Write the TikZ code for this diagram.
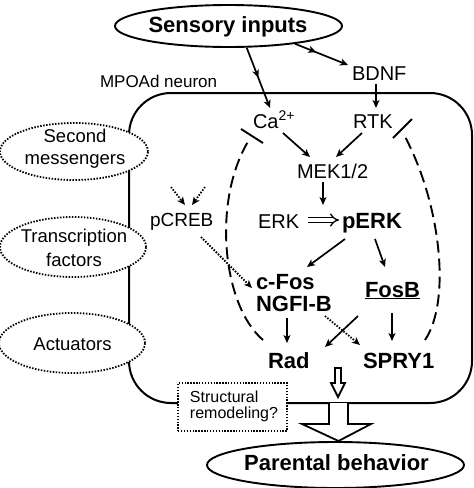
\documentclass[tikz,border=0pt]{standalone}
\usepackage{fontspec}
\setmainfont{Liberation Sans}
\usetikzlibrary{arrows.meta,decorations.markings,shapes.geometric}
\tikzset{
  lbl/.style={inner sep=0pt, outer sep=0pt, anchor=base west, font=\fontsize{20}{22}\selectfont},
  blbl/.style={lbl, font=\bfseries\fontsize{22}{22}\selectfont},
  sidelbl/.style={inner sep=0pt, outer sep=0pt, align=center, font=\fontsize{18.5}{22}\selectfont},
  tip/.tip={Stealth[length=8pt,width=7pt,inset=2.2pt]},
  arr/.style={line width=1.7pt, -tip},
  dotarr/.style={arr, line width=1.8pt, dash pattern=on 1.5pt off 1.5pt},
  inhib/.style={line width=1.9pt, dash pattern=on 12pt off 6pt},
  inhibbar/.style={line width=1.9pt},
  midarrow/.style={postaction={decorate}, decoration={markings, mark=at position #1 with {\arrow{Stealth[length=8pt,width=7pt,inset=2.2pt]}}}},
  solidell/.style={ellipse, draw, line width=1.9pt, fill=white, inner sep=0pt},
  dotell/.style={ellipse, draw, line width=1.8pt, dash pattern=on 1.5pt off 1.5pt, fill=white, inner sep=0pt},
  hollow/.style={line width=1.8pt, fill=white, line join=miter},
}
\begin{document}
\begin{tikzpicture}[x=1pt,y=-1pt]
\useasboundingbox (0,0) rectangle (474,488);
% neuron outline
\draw[line width=2pt, rounded corners=42pt] (129,93) rectangle (472,403);
% side ellipses
\node[dotell, minimum width=148pt, minimum height=57pt] (sm) at (74,151.5) {};
\node[sidelbl] (smt) at (75,149.2) {Second\\messengers};
\node[dotell, minimum width=146pt, minimum height=60pt] (tf) at (73,247) {};
\node[sidelbl, font=\fontsize{18.5}{24}\selectfont] (tft) at (74,248.3) {Transcription\\factors};
\node[dotell, minimum width=146pt, minimum height=60pt] (act) at (72,343) {};
\node[sidelbl, anchor=base] (actt) at (72.5,350) {Actuators};
% structural remodeling
\node[draw, line width=1.6pt, dash pattern=on 1.4pt off 1.5pt, fill=white, minimum width=109pt, minimum height=48pt, inner sep=0pt] (sbox) at (232.5,407) {};
\node[inner sep=0pt, align=left, font=\fontsize{16}{16}\selectfont] (stxt) at (234,406) {Structural\\remodeling?};
% top and bottom ellipses
\node[solidell, minimum width=227pt, minimum height=42pt] (sens) at (228.5,26) {};
\node[blbl, anchor=base] (senst) at (228,32) {Sensory inputs};
\node[solidell, minimum width=257pt, minimum height=46pt] (par) at (335.5,465) {};
\node[blbl, anchor=base] (part) at (336.5,470) {Parental behavior};
% labels
\node[lbl, font=\fontsize{17}{20}\selectfont] (mpoad) at (100,87) {MPOAd neuron};
\node[lbl] (bdnf) at (352,80) {BDNF};
\node[lbl] (ca) at (253,128) {Ca\textsuperscript{2+}};
\node[lbl] (rtk) at (353,128) {RTK};
\node[lbl] (mek) at (297,178) {MEK1/2};
\node[lbl] (erk) at (258,228) {ERK};
\node[blbl] (perk) at (342,228) {pERK};
\node[lbl, font=\fontsize{19}{22}\selectfont] (pcreb) at (150,226) {pCREB};
\node[blbl] (cfos) at (256,289) {c-Fos};
\node[blbl] (ngfi) at (256,311) {NGFI-B};
\node[blbl] (fosb) at (365,297) {\underline{FosB}};
\node[blbl] (rad) at (268,368) {Rad};
\node[blbl] (spry) at (363,368) {SPRY1};
% connectors
\draw[arr, midarrow=0.5] (sens.-50) -- ([shift={(17,-20)}]ca.base west);
\draw[arr, midarrow=0.4] (sens.-15) -- ([shift={(-4,-15)}]bdnf.base west);
\draw[arr] ([shift={(24,4)}]bdnf.base west) -- ([shift={(23,-20)}]rtk.base west);
\draw[arr] ([shift={(30,5)}]ca.base west) -- ([shift={(13,-21)}]mek.base west);
\draw[arr] ([shift={(9,5)}]rtk.base west) -- ([shift={(39,-21)}]mek.base west);
\draw[arr] ([shift={(26,4)}]mek.base west) -- ([shift={(26,27)}]mek.base west);
\draw[line width=1.3pt, double, double distance=3.2pt, -{Implies[length=7pt]}] ([shift={(50,-8)}]erk.base west) -- ([shift={(-3,-8)}]perk.base west);
\draw[arr] ([shift={(3,11)}]perk.base west) -- ([shift={(51,-22)}]cfos.base west);
\draw[arr] ([shift={(33,11)}]perk.base west) -- ([shift={(20,-30)}]fosb.base west);
\draw[dotarr] ([shift={(21,-39)}]pcreb.base west) -- ([shift={(35,-21)}]pcreb.base west);
\draw[dotarr] ([shift={(55,-39)}]pcreb.base west) -- ([shift={(42,-21)}]pcreb.base west);
\draw[dotarr] ([shift={(51,11)}]pcreb.base west) -- ([shift={(-4,-1)}]cfos.base west);
\draw[arr] ([shift={(31,7)}]ngfi.base west) -- ([shift={(19,-25)}]rad.base west);
\draw[dotarr] ([shift={(69,5)}]ngfi.base west) -- ([shift={(-3,-23)}]spry.base west);
\draw[arr] ([shift={(-7,19)}]fosb.base west) -- ([shift={(57,-21)}]rad.base west);
\draw[arr] ([shift={(27,16)}]fosb.base west) -- ([shift={(29,-27)}]spry.base west);
% inhibitory feedback
\draw[inhib] ([shift={(-5,-28)}]rad.base west) .. controls (222,305) and (212,200) .. ([shift={(-4,12)}]ca.base west);
\draw[inhibbar] ([shift={(-12,1)}]ca.base west) -- ([shift={(10,15)}]ca.base west);
\draw[inhib] ([shift={(62,-28)}]spry.base west) .. controls (452,300) and (440,200) .. ([shift={(50,5)}]rtk.base west);
\draw[inhibbar] ([shift={(40,10)}]rtk.base west) -- ([shift={(59,-9)}]rtk.base west);
% hollow output arrows
\draw[hollow] (335,368) -- (335,383) -- (331,383) -- (338,397) -- (345,383) -- (341,383) -- (341,368) -- cycle;
\fill[white] (329,404) -- (329,424) -- (302,424) -- (338.5,441) -- (371,424) -- (348,424) -- (348,404) -- cycle;
\draw[hollow] (329,403) -- (329,424) -- (302,424) -- (338.5,441) -- (371,424) -- (348,424) -- (348,403);
\end{tikzpicture}
\end{document}
